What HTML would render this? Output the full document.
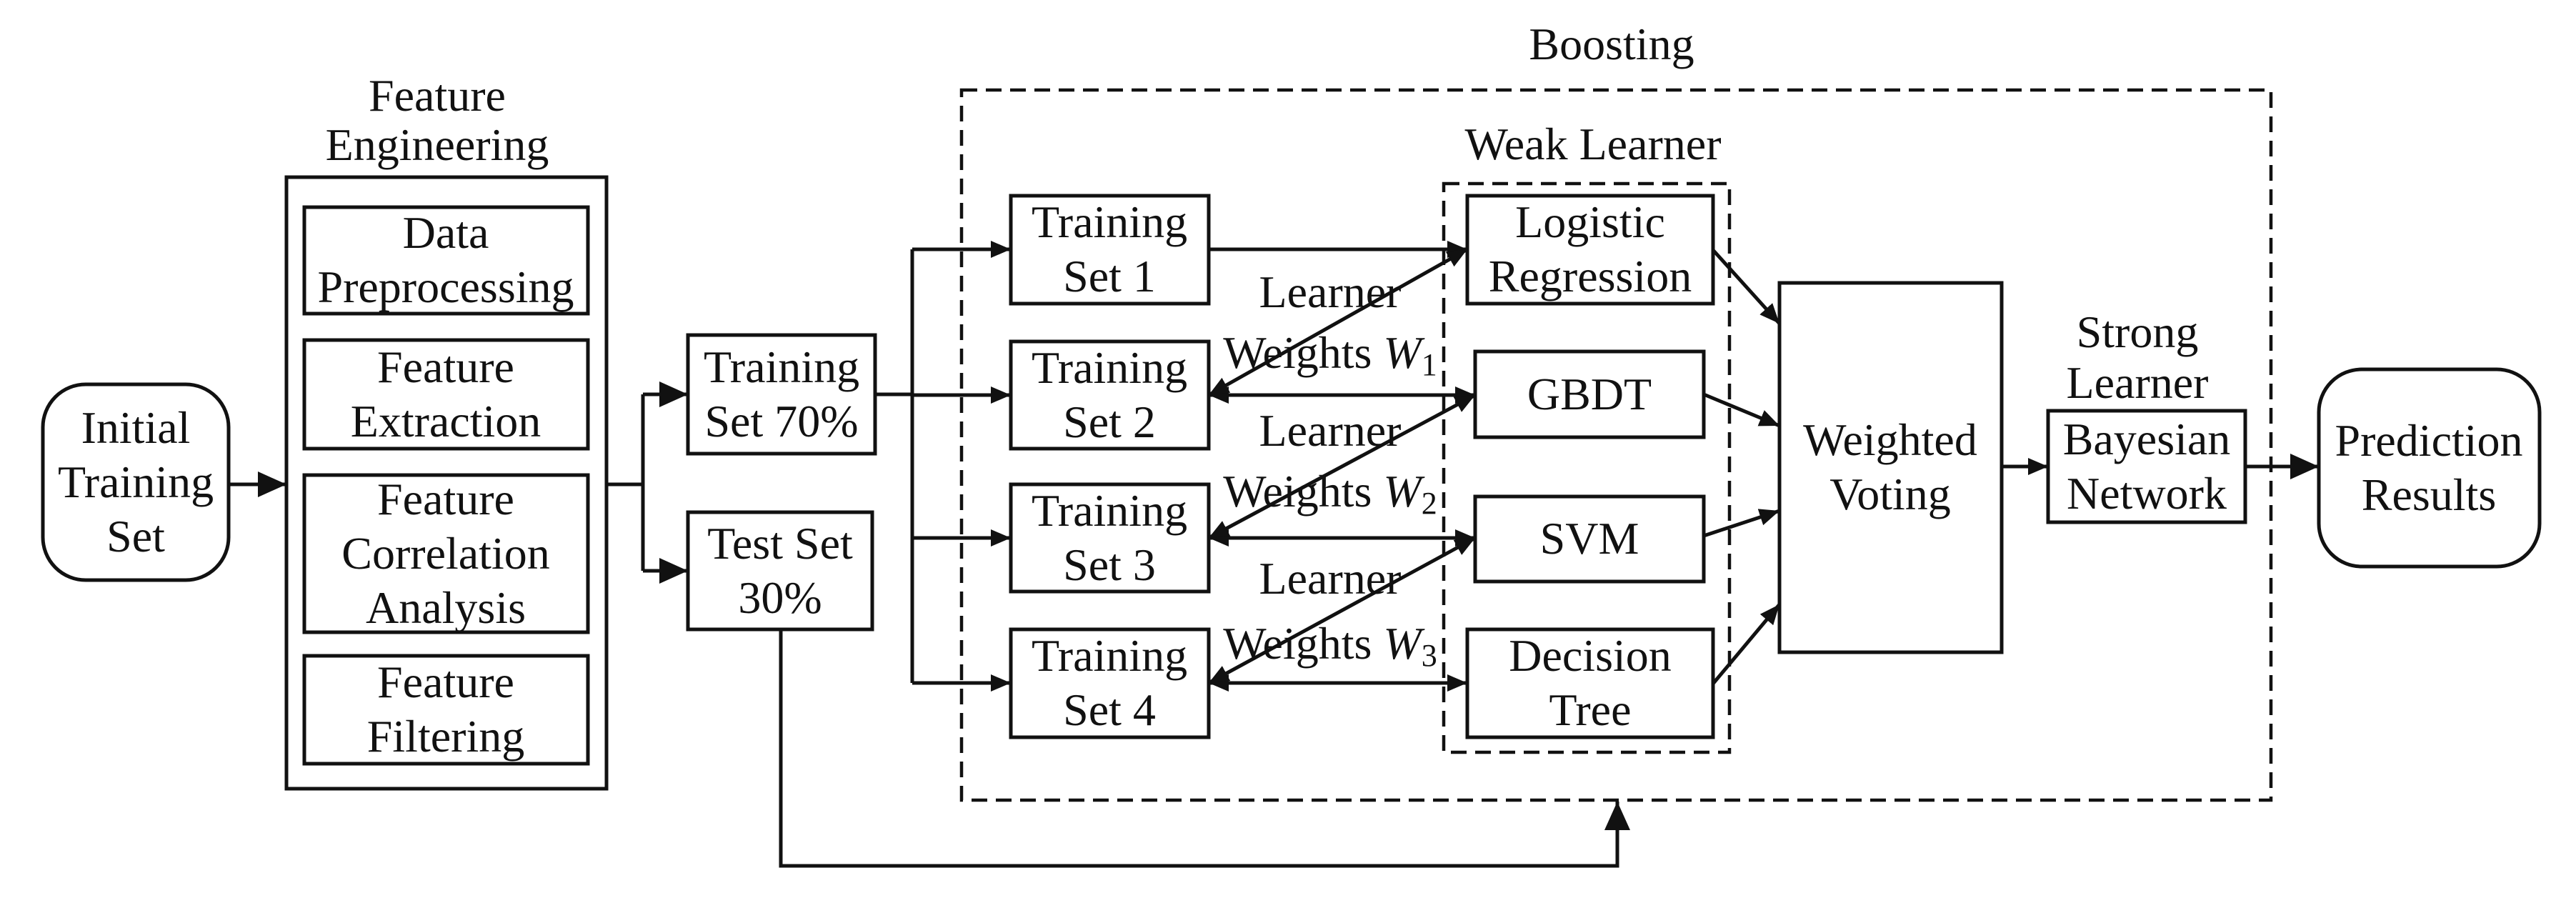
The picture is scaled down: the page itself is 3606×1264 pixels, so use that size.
<!DOCTYPE html>
<html><head><meta charset="utf-8"><style>
html,body{margin:0;padding:0;background:#fff}
svg{display:block}
text{font-family:"Liberation Serif",serif;font-size:64px;fill:#111;text-anchor:middle}
</style></head><body>
<svg width="3606" height="1264" viewBox="0 0 3606 1264" xmlns="http://www.w3.org/2000/svg">
<defs>
<marker id="b" viewBox="0 0 40 36" refX="40" refY="18" markerWidth="40" markerHeight="36" markerUnits="userSpaceOnUse" orient="auto-start-reverse">
<path d="M0,0 L40,18 L0,36 z" fill="#111"/>
</marker>
<marker id="s" viewBox="0 0 28 24" refX="28" refY="12" markerWidth="28" markerHeight="24" markerUnits="userSpaceOnUse" orient="auto-start-reverse">
<path d="M0,0 L28,12 L0,24 z" fill="#111"/>
</marker>
</defs>
<g fill="none" stroke="#111" stroke-width="5">
<rect x="60" y="538" width="260" height="274" rx="60"/>
<rect x="401" y="248" width="448" height="856"/>
<rect x="426" y="290" width="397" height="149"/>
<rect x="426" y="476" width="397" height="152"/>
<rect x="426" y="665" width="397" height="220"/>
<rect x="426" y="918" width="397" height="151"/>
<rect x="963" y="469" width="262" height="166"/>
<rect x="963" y="717" width="258" height="164"/>
<rect x="1415" y="274" width="277" height="151"/>
<rect x="1415" y="478" width="277" height="150"/>
<rect x="1415" y="678" width="277" height="150"/>
<rect x="1415" y="881" width="277" height="151"/>
<rect x="2054" y="274" width="344" height="151"/>
<rect x="2065" y="492" width="320" height="120"/>
<rect x="2065" y="695" width="320" height="119"/>
<rect x="2054" y="881" width="344" height="151"/>
<rect x="2491" y="396" width="311" height="517"/>
<rect x="2867" y="575" width="276" height="156"/>
<rect x="3246" y="517" width="309" height="276" rx="60"/>
<g stroke-dasharray="22,12" stroke-width="4.5">
<rect x="1346" y="126" width="1833" height="994"/>
<rect x="2021" y="257" width="400" height="796"/>
</g>
<line x1="320" y1="678" x2="401" y2="678" marker-end="url(#b)"/>
<line x1="849" y1="678" x2="900" y2="678"/>
<line x1="900" y1="552" x2="900" y2="799"/>
<line x1="900" y1="552" x2="963" y2="552" marker-end="url(#b)"/>
<line x1="900" y1="799" x2="963" y2="799" marker-end="url(#b)"/>
<line x1="1225" y1="552" x2="1277" y2="552"/>
<line x1="1277" y1="349" x2="1277" y2="956"/>
<line x1="1277" y1="349" x2="1415" y2="349" marker-end="url(#s)"/>
<line x1="1277" y1="553" x2="1415" y2="553" marker-end="url(#s)"/>
<line x1="1277" y1="753" x2="1415" y2="753" marker-end="url(#s)"/>
<line x1="1277" y1="956" x2="1415" y2="956" marker-end="url(#s)"/>
<line x1="1692" y1="349" x2="2054" y2="349" marker-end="url(#s)"/>
<line x1="1692" y1="553" x2="2065" y2="553" marker-start="url(#s)" marker-end="url(#s)"/>
<line x1="1692" y1="753" x2="2065" y2="753" marker-start="url(#s)" marker-end="url(#s)"/>
<line x1="1692" y1="956" x2="2054" y2="956" marker-start="url(#s)" marker-end="url(#s)"/>
<line x1="1692" y1="553" x2="2054" y2="349" marker-start="url(#s)" marker-end="url(#s)"/>
<line x1="1692" y1="753" x2="2065" y2="553" marker-start="url(#s)" marker-end="url(#s)"/>
<line x1="1692" y1="956" x2="2065" y2="753" marker-start="url(#s)" marker-end="url(#s)"/>
<line x1="2398" y1="350" x2="2491" y2="453" marker-end="url(#s)"/>
<line x1="2385" y1="552" x2="2491" y2="596" marker-end="url(#s)"/>
<line x1="2385" y1="750" x2="2491" y2="715" marker-end="url(#s)"/>
<line x1="2398" y1="957" x2="2491" y2="846" marker-end="url(#s)"/>
<line x1="2802" y1="653" x2="2867" y2="653" marker-end="url(#s)"/>
<line x1="3143" y1="653" x2="3246" y2="653" marker-end="url(#b)"/>
<polyline points="1093,881 1093,1212 2264,1212 2264,1150"/>
<line x1="2264" y1="1160" x2="2264" y2="1122" marker-end="url(#b)"/>
</g>
<g>
<text x="190" y="620">Initial</text>
<text x="190" y="696">Training</text>
<text x="190" y="772">Set</text>
<text x="612" y="155">Feature</text>
<text x="612" y="224">Engineering</text>
<text x="624" y="347">Data</text>
<text x="624" y="423">Preprocessing</text>
<text x="624" y="535">Feature</text>
<text x="624" y="611">Extraction</text>
<text x="624" y="720">Feature</text>
<text x="624" y="796">Correlation</text>
<text x="624" y="872">Analysis</text>
<text x="624" y="976">Feature</text>
<text x="624" y="1052">Filtering</text>
<text x="1094" y="535">Training</text>
<text x="1094" y="611">Set 70%</text>
<text x="1092" y="782">Test Set</text>
<text x="1092" y="858">30%</text>
<text x="2256" y="83">Boosting</text>
<text x="2230" y="223">Weak Learner</text>
<text x="1553" y="332">Training</text>
<text x="1553" y="408">Set 1</text>
<text x="1553" y="536">Training</text>
<text x="1553" y="612">Set 2</text>
<text x="1553" y="736">Training</text>
<text x="1553" y="812">Set 3</text>
<text x="1553" y="939">Training</text>
<text x="1553" y="1015">Set 4</text>
<text x="1862" y="430">Learner</text>
<text x="1862" y="515">Weights <tspan font-style="italic">W</tspan><tspan font-size="44" dy="10">1</tspan></text>
<text x="1862" y="624">Learner</text>
<text x="1862" y="709">Weights <tspan font-style="italic">W</tspan><tspan font-size="44" dy="10">2</tspan></text>
<text x="1862" y="831">Learner</text>
<text x="1862" y="922">Weights <tspan font-style="italic">W</tspan><tspan font-size="44" dy="10">3</tspan></text>
<text x="2226" y="332">Logistic</text>
<text x="2226" y="408">Regression</text>
<text x="2225" y="573">GBDT</text>
<text x="2225" y="775">SVM</text>
<text x="2226" y="939">Decision</text>
<text x="2226" y="1015">Tree</text>
<text x="2646" y="637">Weighted</text>
<text x="2646" y="713">Voting</text>
<text x="2992" y="486">Strong</text>
<text x="2992" y="557">Learner</text>
<text x="3005" y="636">Bayesian</text>
<text x="3005" y="712">Network</text>
<text x="3400" y="638">Prediction</text>
<text x="3400" y="714">Results</text>
</g>
</svg>
</body></html>
